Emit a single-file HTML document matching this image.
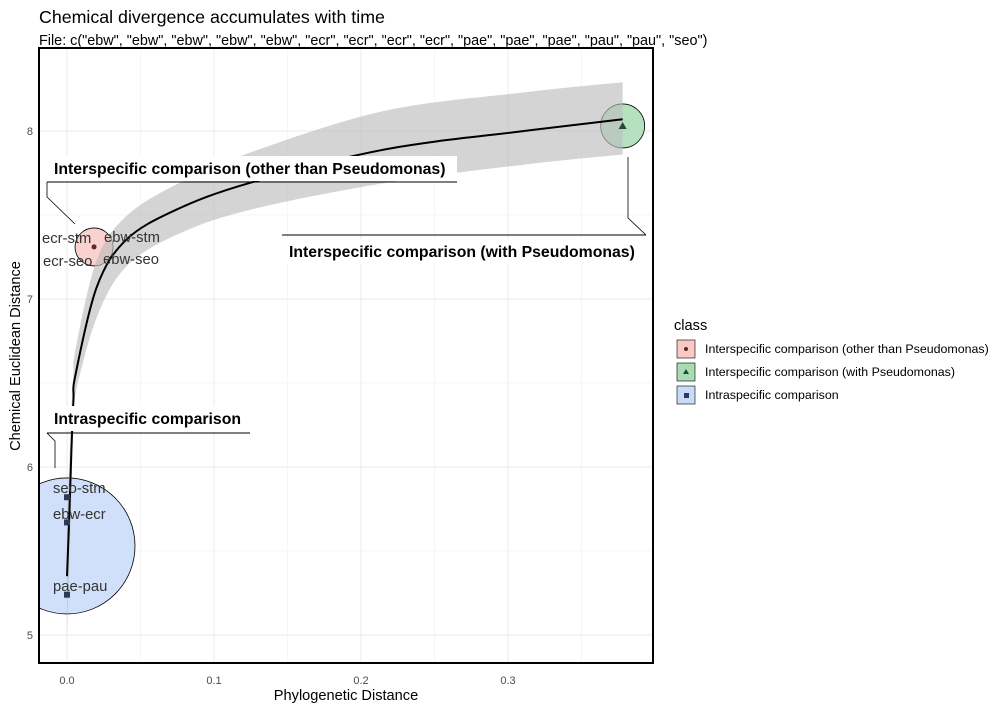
<!DOCTYPE html>
<html><head><meta charset="utf-8"><style>
body{margin:0;background:#fff;}
svg text{font-family:"Liberation Sans",Arial,sans-serif;}
</style></head><body>
<svg id="chart" width="1006" height="711" viewBox="0 0 1006 711">
<defs><clipPath id="pc"><rect x="39" y="48" width="614" height="615"/></clipPath></defs>
<text x="39" y="23" font-size="17.8" fill="#000">Chemical divergence accumulates with time</text>
<text x="39" y="45" font-size="14.4" fill="#000">File: c("ebw", "ebw", "ebw", "ebw", "ebw", "ecr", "ecr", "ecr", "ecr", "pae", "pae", "pae", "pau", "pau", "seo")</text>
<g id="grid"></g>
<g id="plot" clip-path="url(#pc)"></g>
<g id="annot"></g>
<rect x="39" y="48" width="614" height="615" fill="none" stroke="#000" stroke-width="2"/>
<g id="axes"></g>
<text x="346" y="700" font-size="14.6" text-anchor="middle">Phylogenetic Distance</text>
<text transform="translate(20,356) rotate(-90)" font-size="14.6" text-anchor="middle">Chemical Euclidean Distance</text>
<g id="legend">
<text x="674" y="330" font-size="14.6">class</text>
</g>
</svg>
<script>
const xTicks=[0,0.1,0.2,0.3];
const xTickLabels=["0.0","0.1","0.2","0.3"];
const yTicks=[5,6,7,8];
const yTickLabels=["5","6","7","8"];
const fitX=[0,0.0015,0.003,0.0044,0.0058,0.0202,0.040,0.074,0.124,0.216,0.311,0.378];
const fitY=[5.35,5.7,6.1,6.4,6.55,7.07,7.35,7.53,7.69,7.89,8.0,8.07];
const fitLo=[5.0,5.4,5.85,6.3,6.44,6.89,7.19,7.38,7.53,7.69,7.8,7.86];
const fitHi=[5.7,6.0,6.35,6.55,6.7,7.23,7.49,7.68,7.87,8.12,8.23,8.29];
const classes=["Interspecific comparison (other than Pseudomonas)","Interspecific comparison (with Pseudomonas)","Intraspecific comparison"];
const classFill=["#f8c9c5","#a8dcb5","#c9dbf9"];
const classPt=["#5a2a2a","#1f4d2d","#2a3a5a"];
const ptX=[0.0184,0.378,0,0,0];
const ptY=[7.31,8.03,5.82,5.67,5.24];
const ptClass=[0,1,2,2,2];
const circX=[0.0184,0.378,0];
const circY=[7.31,8.03,5.53];
const circR=[19,22,68];
const X=v=>67+v*1470, Y=v=>131+(8-v)*168;
const NS="http://www.w3.org/2000/svg";
function mk(tag,attrs,parent,txt){const e=document.createElementNS(NS,tag);for(const k in attrs)e.setAttribute(k,attrs[k]);if(txt!==undefined)e.textContent=txt;parent.appendChild(e);return e;}
function spline(pts){let d='M'+pts[0][0]+','+pts[0][1];
for(let i=0;i<pts.length-1;i++){const p0=pts[i-1]||pts[i],p1=pts[i],p2=pts[i+1],p3=pts[i+2]||p2;
d+=`C${p1[0]+(p2[0]-p0[0])/6},${p1[1]+(p2[1]-p0[1])/6} ${p2[0]-(p3[0]-p1[0])/6},${p2[1]-(p3[1]-p1[1])/6} ${p2[0]},${p2[1]}`;}return d;}
const grid=document.getElementById('grid'),plot=document.getElementById('plot'),annot=document.getElementById('annot'),axes=document.getElementById('axes'),leg=document.getElementById('legend');
xTicks.forEach((t,i)=>{let l=mk('line',{x1:X(t),x2:X(t),y1:48,y2:663,stroke:'#ebebeb','stroke-width':1},grid);

mk('line',{x1:X(t+0.05),x2:X(t+0.05),y1:48,y2:663,stroke:'#f3f3f3','stroke-width':0.7},grid);
let tx=mk('text',{x:X(t),y:684,'font-size':11,fill:'#4d4d4d','text-anchor':'middle'},axes,xTickLabels[i]);
});
yTicks.forEach((t,i)=>{let l=mk('line',{x1:39,x2:653,y1:Y(t),y2:Y(t),stroke:'#ebebeb','stroke-width':1},grid);

mk('line',{x1:39,x2:653,y1:Y(t+0.5),y2:Y(t+0.5),stroke:'#f3f3f3','stroke-width':0.7},grid);
let tx=mk('text',{x:33,y:Y(t)+4,'font-size':11,fill:'#4d4d4d','text-anchor':'end'},axes,yTickLabels[i]);
});
circX.forEach((c,i)=>{let e=mk('circle',{cx:X(c),cy:Y(circY[i]),r:circR[i],fill:classFill[i],'fill-opacity':0.85,stroke:'#000','stroke-width':0.8},plot);
});
const hi=fitX.map((x,i)=>[X(x),Y(fitHi[i])]), lo=fitX.map((x,i)=>[X(x),Y(fitLo[i])]).reverse();
let rd=spline(hi)+'L'+spline(lo).slice(1)+'Z';
let rb=mk('path',{d:rd,fill:'#bdbdbd','fill-opacity':0.65},plot);

let fl=mk('path',{d:spline(fitX.map((x,i)=>[X(x),Y(fitY[i])])),fill:'none',stroke:'#000','stroke-width':2},plot);

ptX.forEach((p,i)=>{const c=ptClass[i];let e;
if(c===0)e=mk('circle',{cx:X(p),cy:Y(ptY[i]),r:2.5,fill:classPt[c]},plot);
else if(c===1){const x=X(p),y=Y(ptY[i]);e=mk('polygon',{points:`${x},${y-4} ${x-4},${y+3} ${x+4},${y+3}`,fill:classPt[c]},plot);}
else e=mk('rect',{x:X(p)-3,y:Y(ptY[i])-3,width:6,height:6,fill:classPt[c]},plot);
});
const lbls=[["ecr-stm",42,243],["ebw-stm",104,242],["ecr-seo",43,266],["ebw-seo",103,264],["seo-stm",53,493],["ebw-ecr",53,519],["pae-pau",53,591]];
lbls.forEach(l=>{let t=mk('text',{x:l[1],y:l[2],'font-size':14.8,fill:'#333'},plot,l[0]);
});
function ann(txt,tx,ty,bx,bw,line,path){let g=mk('g',{},annot);

mk('rect',{x:bx,y:ty-18,width:bw,height:25,fill:'#fff'},g);
mk('text',{x:tx,y:ty,'font-size':15.8,'font-weight':'bold',fill:'#000'},g,txt);
mk('path',{d:line,fill:'none',stroke:'#000','stroke-width':1},g);
mk('path',{d:path,fill:'none',stroke:'#000','stroke-width':0.8},g);}
ann(classes[0],54,174,47,410,'M47,182L457,182','M47,182L47,197L75,224');
ann(classes[1],289,257,282,364,'M282,235L646,235','M646,235L628,218L628,157');
ann(classes[2],54,424,47,203,'M47,433L250,433','M47,433L55,441L55,468');
classes.forEach((c,i)=>{const y=340+i*23;
let k=mk('rect',{x:677,y:y,width:18,height:18,fill:classFill[i],stroke:'#000','stroke-width':0.6},leg);

if(i===0)mk('circle',{cx:686,cy:y+9,r:2,fill:classPt[i]},leg);
else if(i===1)mk('polygon',{points:`686,${y+6} 683,${y+11} 689,${y+11}`,fill:classPt[i]},leg);
else mk('rect',{x:684,y:y+7,width:5,height:5,fill:classPt[i]},leg);
let t=mk('text',{x:705,y:y+13,'font-size':12.4,fill:'#000'},leg,c);
});
</script>
</body></html>
